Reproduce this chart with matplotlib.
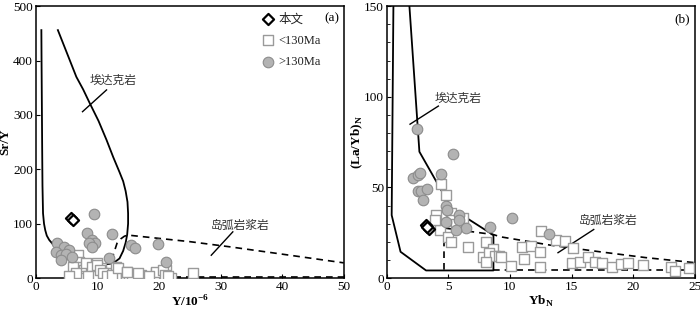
import matplotlib
matplotlib.use('Agg')
import matplotlib.pyplot as plt
from matplotlib.ticker import MultipleLocator

plt.rcParams['font.family'] = ['Liberation Serif', 'Noto Sans CJK SC']
plt.rcParams['mathtext.fontset'] = 'custom'
plt.rcParams['mathtext.rm'] = 'Liberation Serif:bold'
plt.rcParams['mathtext.bf'] = 'Liberation Serif:bold'

CJK = 'Noto Sans CJK SC'

# ---- panel (a): Sr/Y vs Y ----
a_adakite_x = [0.92, 0.95, 1.0, 1.05, 1.1, 1.19, 1.35, 1.55, 1.8, 2.2, 2.8, 3.5, 4.4, 5.5, 7.1,
               8.5, 9.85, 11.0, 12.0, 12.9, 13.6, 14.2, 14.6, 14.85, 15.0, 15.0, 14.9, 14.6,
               14.2, 13.6, 12.6, 11.5, 10.2, 8.8, 7.7, 6.6, 5.1, 3.6]
a_adakite_y = [456, 400, 320, 240, 170, 119, 100, 88, 78, 70, 62, 55, 48, 41, 33,
               29, 26, 25, 26, 30, 36, 50, 65, 80, 100, 119, 140, 160,
               178, 195, 222, 254, 289, 321, 347, 370, 413, 456]
a_arc_x = [12.3, 12.8, 13.2, 13.8, 14.4, 15.0, 25.0, 31.5, 40.0, 50.0]
a_arc_y = [33, 50, 64, 72, 77, 79, 67, 57.5, 44, 28]
a_arc_base_x = [13.0, 50.0]
a_arc_base_y = [2.5, 2.5]

a_young_x = [6.8, 7.0, 6.5, 6.2, 7.8, 8.9, 10.0, 10.6, 9.5, 11.4, 13.0, 8.0, 10.6, 13.0, 14.6,
             6.0, 6.3, 8.2, 9.1, 9.4, 9.9, 10.5, 11.0, 11.6, 12.4, 13.3, 14.9, 15.2, 15.7, 17.1,
             17.6, 19.5, 19.8, 20.9, 21.2, 22.0, 25.5, 7.1, 6.6, 8.5, 5.4, 16.6, 19.6, 20.7,
             21.0, 21.5, 18.4, 14.9]
a_young_y = [42, 30, 21, 5.5, 14.7, 24, 27, 17.8, 11, 8.6, 21, 3, 3, 6, 5.5,
             21, 3, 27, 21, 3, 24, 14, 9, 3, 6, 18, 12, 1, 6, 6,
             1, 9, 1, 9, 15, 1, 8.6, 1, 9, 3, 3, 8.6, 11.6, 14.7,
             6, 4, 4, 11]
a_old_x = [9.47, 8.4, 12.4, 9.1, 9.6, 8.65, 9.2, 3.5, 4.6, 3.25, 5.4, 4.06, 4.9, 4.06, 5.95,
           11.9, 15.4, 16.1, 19.9, 21.1]
a_old_y = [117, 82, 81, 70, 64, 64, 57.6, 65, 57.6, 48, 51, 42, 45, 33, 39,
           36, 60, 55, 62, 30]
a_this_x = [5.7, 6.0]
a_this_y = [110, 106]

# ---- panel (b): (La/Yb)N vs YbN ----
b_adakite_x = [0.54, 0.4, 1.12, 3.19, 8.66, 8.66, 5.27, 2.65, 1.84]
b_adakite_y = [150, 34.7, 14.5, 4.2, 4.2, 23.7, 38.4, 69.7, 150]
b_arc_x = [4.68, 8.66, 9.2, 13.25, 17.3, 21.0, 25.0]
b_arc_y = [27.6, 24.0, 22.8, 18.2, 14.5, 11.3, 8.5]
b_arc_v_x = [4.68, 4.68]
b_arc_v_y = [27.6, 4.2]
b_arc_base_x = [8.66, 25.0]
b_arc_base_y = [4.2, 4.2]

b_young_x = [4.4, 4.8, 4.0, 4.2, 4.3, 5.2, 5.3, 6.2, 4.95, 5.2, 6.6, 8.05, 8.6, 7.8, 8.3,
             8.8, 8.05, 9.1, 12.5, 13.7, 14.5, 15.1, 11.0, 11.7, 12.4, 11.1, 10.1, 12.4, 9.3,
             15.0, 15.7, 16.3, 16.9, 17.45, 18.3, 19.0, 19.6, 20.8, 23.1, 23.4, 24.5, 5.6, 3.9]
b_young_y = [52, 45.8, 34.7, 29.2, 26.5, 35.7, 32, 33, 22.8, 20, 17.3, 20, 16, 11.8, 14,
             12, 9, 12, 26, 21, 20.4, 16.7, 17.3, 17.8, 14.5, 10.3, 6.8, 6.2, 11.8,
             8.1, 9, 11.8, 9, 8.1, 6.2, 7.5, 8.1, 7.2, 6.2, 3.9, 5.3, 30, 32]
b_old_x = [2.43, 5.36, 2.1, 2.5, 2.7, 4.4, 2.5, 2.8, 3.25, 2.97, 4.8, 4.9, 5.9, 5.85, 4.8,
           6.4, 5.6, 8.4, 10.15, 13.2]
b_old_y = [82, 68.2, 55, 56.8, 58, 57.2, 48.2, 48, 49, 43, 40, 37.6, 34.7, 32, 31,
           27.4, 26.5, 28, 33.3, 24.1]
b_this_x = [3.15, 3.45, 3.3]
b_this_y = [29.5, 27.3, 28.3]

sq_style = dict(marker='s', s=55, facecolor='white', edgecolor='#9a9a9a', linewidth=1.0)
ci_style = dict(marker='o', s=58, facecolor='#b3b3b3', edgecolor='#8c8c8c', linewidth=0.8)
di_style = dict(marker='D', s=32, facecolor='white', edgecolor='black', linewidth=1.6)
dash = dict(color='black', lw=1.2, linestyle=(0, (4, 3)))

fig = plt.figure(figsize=(7, 3.1), dpi=100)
ax1 = fig.add_axes([0.051, 0.103, 0.44, 0.877])
ax2 = fig.add_axes([0.5525, 0.103, 0.44, 0.877])

for ax in (ax1, ax2):
    for sp in ax.spines.values():
        sp.set_linewidth(1.1)
    ax.tick_params(direction='in', labelsize=9.5, length=3, width=0.8, pad=2)
    ax.tick_params(which='minor', direction='in', length=2, width=0.6)

# panel a
ax1.plot(a_adakite_x, a_adakite_y, color='black', lw=1.3)
ax1.plot(a_arc_x, a_arc_y, **dash)
ax1.plot(a_arc_base_x, a_arc_base_y, **dash)
ax1.scatter(a_young_x, a_young_y, zorder=3, **sq_style)
ax1.scatter(a_old_x, a_old_y, zorder=4, **ci_style)
ax1.scatter(a_this_x, a_this_y, zorder=5, **di_style)
ax1.set_xlim(0, 50)
ax1.set_ylim(0, 500)
ax1.xaxis.set_major_locator(MultipleLocator(10))
ax1.yaxis.set_major_locator(MultipleLocator(100))
ax1.set_xlabel('Y/10$^{-6}$', fontsize=9.5, fontweight='bold', labelpad=1)
ax1.set_ylabel('Sr/Y', fontsize=9.5, fontweight='bold')
ax1.yaxis.set_label_coords(-0.078, 0.5)
ax1.text(48, 477, '(a)', fontsize=9.5, ha='center', va='center')
ax1.text(12.5, 364, '埃达克岩', family=CJK, fontsize=8.5, color='#333333', ha='center', va='center')
ax1.plot([11.5, 7.6], [346, 306], color='black', lw=1.0)
ax1.text(33.1, 97, '岛弧岩浆岩', family=CJK, fontsize=8.5, color='#333333', ha='center', va='center')
ax1.plot([32.0, 28.5], [85, 42], color='black', lw=1.0)

h1 = ax1.scatter([], [], **di_style)
h2 = ax1.scatter([], [], **sq_style)
h3 = ax1.scatter([], [], **ci_style)
leg = ax1.legend([h1, h2, h3], ['本文', '<130Ma', '>130Ma'], loc='upper left',
                 bbox_to_anchor=(0.733, 0.975), frameon=False, fontsize=9,
                 handlelength=1.0, handletextpad=0.35, labelspacing=0.75,
                 borderaxespad=0, borderpad=0, scatterpoints=1)
for t in leg.get_texts():
    t.set_family(['Liberation Serif', CJK])
    t.set_color('#222222')

# panel b
ax2.plot(b_adakite_x, b_adakite_y, color='black', lw=1.3)
ax2.plot(b_arc_x, b_arc_y, **dash)
ax2.plot(b_arc_v_x, b_arc_v_y, **dash)
ax2.plot(b_arc_base_x, b_arc_base_y, **dash)
ax2.scatter(b_young_x, b_young_y, zorder=3, **sq_style)
ax2.scatter(b_old_x, b_old_y, zorder=4, **ci_style)
ax2.scatter(b_this_x, b_this_y, zorder=5, **di_style)
ax2.set_xlim(0, 25)
ax2.set_ylim(0, 150)
ax2.xaxis.set_major_locator(MultipleLocator(5))
ax2.yaxis.set_major_locator(MultipleLocator(50))
ax2.yaxis.set_minor_locator(MultipleLocator(10))
ax2.set_xlabel(r'Yb$_\mathbf{N}$', fontsize=9.5, fontweight='bold', labelpad=1)
ax2.set_ylabel(r'(La/Yb)$_\mathbf{N}$', fontsize=9.5, fontweight='bold')
ax2.yaxis.set_label_coords(-0.07, 0.5)
ax2.text(24.0, 143, '(b)', fontsize=9.5, ha='center', va='center')
ax2.text(5.8, 99, '埃达克岩', family=CJK, fontsize=8.5, color='#333333', ha='center', va='center')
ax2.plot([4.19, 1.89], [94.9, 84.9], color='black', lw=1.0)
ax2.text(18.0, 32, '岛弧岩浆岩', family=CJK, fontsize=8.5, color='#333333', ha='center', va='center')
ax2.plot([16.8, 13.9], [26.8, 14.0], color='black', lw=1.0)

fig.savefig('out.png', dpi=100)
